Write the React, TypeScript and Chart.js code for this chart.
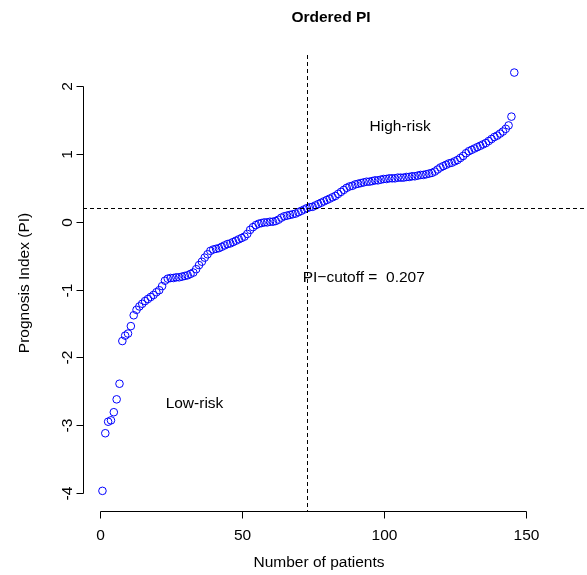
import React, { useEffect, useRef } from "react";
import { Chart, registerables } from "chart.js";

Chart.register(...registerables);

// Ordered prognosis index values (patients sorted ascending)
const piValues: number[] = [
  -3.97, -3.12, -2.95, -2.93, -2.81, -2.62, -2.39, -1.76, -1.68, -1.65,
  -1.54, -1.38, -1.30, -1.25, -1.21, -1.17, -1.14, -1.11, -1.08, -1.04,
  -1.01, -0.95, -0.87, -0.84, -0.83, -0.83, -0.82, -0.82, -0.81, -0.80,
  -0.79, -0.77, -0.75, -0.70, -0.64, -0.59, -0.53, -0.48, -0.43, -0.41,
  -0.40, -0.39, -0.37, -0.35, -0.33, -0.32, -0.30, -0.28, -0.26, -0.24,
  -0.22, -0.18, -0.12, -0.08, -0.05, -0.03, -0.02, -0.01, -0.01, 0.00,
  0.00, 0.01, 0.03, 0.06, 0.08, 0.09, 0.10, 0.11, 0.12, 0.14,
  0.16, 0.18, 0.20, 0.215, 0.22, 0.24, 0.26, 0.28, 0.30, 0.32,
  0.34, 0.36, 0.38, 0.41, 0.44, 0.47, 0.50, 0.52, 0.53, 0.55,
  0.56, 0.57, 0.58, 0.59, 0.59, 0.60, 0.61, 0.61, 0.62, 0.63,
  0.63, 0.64, 0.64, 0.64, 0.65, 0.65, 0.65, 0.66, 0.66, 0.67,
  0.67, 0.68, 0.69, 0.69, 0.70, 0.71, 0.72, 0.74, 0.77, 0.80,
  0.82, 0.84, 0.86, 0.87, 0.89, 0.91, 0.94, 0.97, 1.01, 1.04,
  1.06, 1.08, 1.10, 1.12, 1.14, 1.16, 1.19, 1.22, 1.25, 1.27,
  1.30, 1.33, 1.37, 1.42, 1.55, 2.20,
];

const xTicks: number[] = [0, 50, 100, 150];
const yTicks: number[] = [-4, -3, -2, -1, 0, 1, 2];
const piCutoff = 0.207;
const cutoffPatient = 73;

const titleText = "Ordered PI";
const xLabel = "Number of patients";
const yLabel = "Prognosis Index (PI)";
const highRiskText = "High-risk";
const lowRiskText = "Low-risk";
const cutoffText = "PI\u2212cutoff =  0.207";

const FONT = "Arial, 'Liberation Sans', sans-serif";

export default function App() {
  const ref = useRef<HTMLCanvasElement | null>(null);

  useEffect(() => {
    document.body.style.margin = "0";
    const canvas = ref.current;
    if (!canvas) return;

    const points = piValues.map((v, i) => ({ x: i + 1, y: v }));

    const rStyle = {
      id: "rStyle",
      afterDraw(chart: any) {
        const ctx = chart.ctx as CanvasRenderingContext2D;
        const xs = chart.scales.x;
        const ys = chart.scales.y;
        const area = chart.chartArea;
        ctx.save();
        ctx.strokeStyle = "#000";
        ctx.fillStyle = "#000";
        ctx.lineWidth = 1;

        // dashed reference lines
        ctx.setLineDash([4, 3]);
        const hy = Math.round(ys.getPixelForValue(piCutoff)) + 0.5;
        ctx.beginPath();
        ctx.moveTo(area.left, hy);
        ctx.lineTo(area.right, hy);
        ctx.stroke();
        const vx = Math.round(xs.getPixelForValue(cutoffPatient)) + 0.5;
        ctx.beginPath();
        ctx.moveTo(vx, area.top);
        ctx.lineTo(vx, area.bottom);
        ctx.stroke();
        ctx.setLineDash([]);

        // x axis
        const axY = Math.round(area.bottom) + 0.5;
        ctx.beginPath();
        ctx.moveTo(Math.round(xs.getPixelForValue(xTicks[0])) + 0.5, axY);
        ctx.lineTo(Math.round(xs.getPixelForValue(xTicks[xTicks.length - 1])) + 0.5, axY);
        ctx.stroke();
        ctx.font = `15.5px ${FONT}`;
        ctx.textAlign = "center";
        ctx.textBaseline = "middle";
        xTicks.forEach((t) => {
          const px = Math.round(xs.getPixelForValue(t)) + 0.5;
          ctx.beginPath();
          ctx.moveTo(px, axY);
          ctx.lineTo(px, axY + 7);
          ctx.stroke();
          ctx.fillText(String(t), px, axY + 24);
        });

        // y axis
        const axX = Math.round(area.left) + 0.5;
        ctx.beginPath();
        ctx.moveTo(axX, Math.round(ys.getPixelForValue(yTicks[0])) + 0.5);
        ctx.lineTo(axX, Math.round(ys.getPixelForValue(yTicks[yTicks.length - 1])) + 0.5);
        ctx.stroke();
        yTicks.forEach((t) => {
          const py = Math.round(ys.getPixelForValue(t)) + 0.5;
          ctx.beginPath();
          ctx.moveTo(axX, py);
          ctx.lineTo(axX - 7, py);
          ctx.stroke();
          ctx.save();
          ctx.translate(axX - 16, py);
          ctx.rotate(-Math.PI / 2);
          ctx.fillText(String(t), 0, 0);
          ctx.restore();
        });

        // axis titles
        ctx.fillText(xLabel, 319, 563);
        ctx.save();
        ctx.translate(25, (area.top + area.bottom) / 2);
        ctx.rotate(-Math.PI / 2);
        ctx.fillText(yLabel, 0, 0);
        ctx.restore();

        // annotations
        ctx.fillText(highRiskText, xs.getPixelForValue(105.8), ys.getPixelForValue(1.4));
        ctx.fillText(lowRiskText, xs.getPixelForValue(33.4), ys.getPixelForValue(-2.69));
        ctx.fillText(cutoffText, xs.getPixelForValue(93), ys.getPixelForValue(-0.83));

        // title
        ctx.font = `bold 15.5px ${FONT}`;
        ctx.fillText(titleText, 331, 18);
        ctx.restore();
      },
    };

    const chart = new Chart(canvas, {
      type: "scatter",
      data: {
        datasets: [
          {
            data: points,
            pointStyle: "circle",
            pointRadius: 3.8,
            pointHoverRadius: 3.8,
            pointBorderWidth: 1,
            borderColor: "#0000ff",
            backgroundColor: "rgba(0,0,0,0)",
            showLine: false,
          },
        ],
      },
      options: {
        responsive: false,
        animation: false,
        events: [],
        layout: { autoPadding: false, padding: { left: 83, top: 55, right: 2, bottom: 64 } },
        plugins: { legend: { display: false }, tooltip: { enabled: false } },
        scales: {
          x: { type: "linear", display: false, min: -5.85, max: 170.9 },
          y: { type: "linear", display: false, min: -4.267, max: 2.459 },
        },
      },
      plugins: [rStyle],
    });

    return () => chart.destroy();
  }, []);

  return (
    <div style={{ width: 587, height: 575, background: "#fff" }}>
      <canvas ref={ref} width={587} height={575} />
    </div>
  );
}
